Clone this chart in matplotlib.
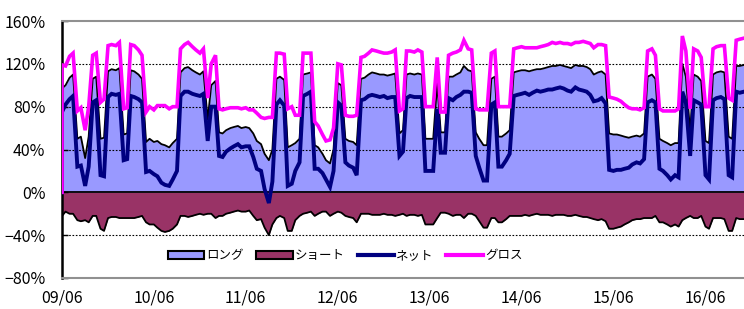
import numpy as np
import pandas as pd
import matplotlib
matplotlib.use("Agg")
import matplotlib.pyplot as plt
import matplotlib.dates as mdates
from matplotlib.patches import Patch
from matplotlib.lines import Line2D

plt.rcParams['font.family'] = ['Noto Sans CJK JP', 'DejaVu Sans']

# semi-monthly observations from 2009/06
long_pct = [97, 100, 107, 110, 50, 52, 32, 52, 106, 108,
            50, 51, 113, 115, 114, 116, 54, 55, 114, 113,
            110, 106, 47, 50, 47, 48, 45, 44, 42, 46,
            50, 112, 116, 117, 114, 112, 110, 113, 68, 100,
            104, 56, 55, 58, 60, 61, 62, 60, 61, 60,
            55, 48, 45, 36, 30, 40, 106, 108, 105, 42,
            44, 46, 50, 110, 111, 112, 44, 42, 36, 30,
            27, 40, 102, 100, 50, 48, 47, 44, 106, 107,
            110, 112, 111, 110, 110, 109, 110, 111, 55, 58,
            110, 111, 110, 111, 110, 50, 50, 50, 102, 56,
            56, 108, 108, 110, 112, 118, 114, 113, 56, 50,
            44, 44, 106, 108, 52, 52, 55, 58, 112, 113,
            114, 114, 113, 114, 115, 115, 116, 117, 118, 118,
            119, 118, 117, 116, 119, 118, 118, 117, 115, 110,
            112, 113, 110, 55, 54, 54, 53, 52, 51, 52,
            53, 52, 55, 108, 110, 106, 50, 48, 46, 44,
            46, 46, 120, 108, 56, 110, 108, 104, 48, 46,
            110, 112, 113, 112, 52, 50, 118, 118, 119]
short_pct = [22, 18, 20, 20, 26, 27, 26, 28, 22, 22,
             34, 36, 24, 23, 23, 24, 24, 24, 24, 24,
             23, 22, 28, 30, 30, 33, 36, 37, 36, 34,
             30, 22, 22, 23, 22, 21, 20, 21, 20, 20,
             24, 22, 22, 20, 19, 18, 17, 18, 18, 17,
             22, 26, 25, 33, 40, 30, 24, 22, 24, 36,
             36, 26, 22, 20, 19, 18, 22, 20, 18, 18,
             22, 20, 18, 19, 22, 23, 24, 28, 20, 20,
             20, 21, 21, 21, 20, 21, 21, 22, 21, 20,
             22, 21, 21, 22, 21, 30, 30, 30, 24, 19,
             19, 20, 22, 21, 21, 24, 20, 20, 22, 27,
             33, 33, 24, 24, 28, 28, 25, 22, 22, 22,
             22, 21, 22, 21, 20, 21, 21, 21, 22, 21,
             21, 21, 22, 22, 21, 22, 23, 23, 24, 25,
             26, 25, 27, 34, 34, 33, 32, 30, 28, 26,
             25, 25, 24, 24, 24, 22, 28, 28, 30, 32,
             30, 32, 26, 24, 22, 24, 24, 22, 32, 34,
             24, 24, 24, 25, 36, 36, 24, 25, 25]

legend_labels = ['ロング', 'ショート', 'ネット', 'グロス']
y_ticks = [-80, -40, 0, 40, 80, 120, 160]

long_a = np.array(long_pct, dtype=float)
short_a = -np.array(short_pct, dtype=float)
net = long_a + short_a
gross = long_a - short_a

dates = pd.date_range('2009-06-01', periods=len(long_a), freq='SMS')
xd = np.r_[dates[:1], dates]

fig = plt.figure(figsize=(7.44, 3.09), dpi=100)
ax = fig.add_axes([62/744, 31/309, 682/744, 257/309])

ax.fill_between(dates, 0, long_a, color='#9999FF', lw=0, zorder=1)
ax.fill_between(dates, 0, short_a, color='#993366', lw=0, zorder=1)
ax.plot(dates, long_a, color='black', lw=1.3, zorder=2)
ax.plot(dates, short_a, color='black', lw=1.3, zorder=2)
ax.axhline(0, color='black', lw=1.3, zorder=3)
ax.plot(xd, np.r_[0, net], color='#000080', lw=2.8, zorder=4, solid_joinstyle='miter')
ax.plot(xd, np.r_[0, gross], color='#FF00FF', lw=2.6, zorder=5, solid_joinstyle='miter')

for g in [-40, 40, 80, 120]:
    ax.axhline(g, color='black', lw=0.8, ls=(0, (1.5, 1.5)), zorder=1.5)

ax.set_ylim(-80, 160)
ax.set_xlim(dates[0], dates[-1])
ax.set_yticks(y_ticks)
ax.set_yticklabels([f"{v}%".replace('-', '−') for v in y_ticks], fontsize=11.5)
ax.xaxis.set_major_locator(mdates.MonthLocator(bymonth=6, bymonthday=1))
ax.xaxis.set_major_formatter(mdates.DateFormatter('%y/%m'))
ax.tick_params(axis='x', length=0, pad=8, labelsize=11.5)
ax.tick_params(axis='y', direction='in', length=4, width=1, pad=12)

ax.spines['right'].set_visible(False)
ax.spines['top'].set_color('#909090')
ax.spines['bottom'].set_color('#909090')
ax.spines['top'].set_linewidth(1.5)
ax.spines['bottom'].set_linewidth(1.5)
ax.spines['left'].set_color('black')
ax.spines['left'].set_linewidth(1.8)

handles = [Patch(facecolor='#9999FF', edgecolor='black', lw=1.5),
           Patch(facecolor='#993366', edgecolor='black', lw=1.5),
           Line2D([], [], color='#000080', lw=3),
           Line2D([], [], color='#FF00FF', lw=3)]
ax.legend(handles, legend_labels, loc='center', bbox_to_anchor=(0.415, 0.086),
          ncol=4, frameon=False, fontsize=9, handlelength=2.9, handleheight=0.6,
          handletextpad=0.2, columnspacing=1.0)

fig.savefig('out.png', dpi=100)
